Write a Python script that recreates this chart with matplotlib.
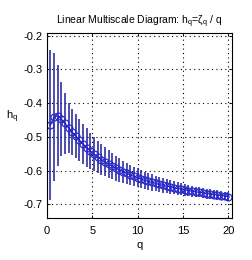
import numpy as np
import matplotlib
matplotlib.use("Agg")
import matplotlib.pyplot as plt

plt.rcParams['font.family'] = ['Liberation Sans', 'DejaVu Sans']
plt.rcParams['mathtext.default'] = 'regular'

# moments q and estimated h_q with error half-widths
q = np.round(np.arange(1, 51) * 0.4, 1)
hq = [-0.465, -0.441, -0.437, -0.447, -0.460, -0.473, -0.486, -0.498, -0.510, -0.521,
      -0.532, -0.542, -0.551, -0.559, -0.567, -0.574, -0.581, -0.587, -0.593, -0.598,
      -0.603, -0.608, -0.613, -0.617, -0.621, -0.625, -0.629, -0.632, -0.635, -0.638,
      -0.641, -0.644, -0.646, -0.648, -0.651, -0.653, -0.655, -0.657, -0.659, -0.661,
      -0.663, -0.664, -0.666, -0.668, -0.669, -0.671, -0.672, -0.674, -0.675, -0.677]
err = [0.222, 0.190, 0.150, 0.110, 0.090, 0.075, 0.068, 0.065, 0.062, 0.060,
       0.057, 0.054, 0.051, 0.048, 0.045, 0.043, 0.041, 0.039, 0.037, 0.035,
       0.033, 0.031, 0.030, 0.029, 0.028, 0.027, 0.026, 0.025, 0.024, 0.023,
       0.022, 0.021, 0.020, 0.020, 0.019, 0.018, 0.018, 0.017, 0.017, 0.016,
       0.016, 0.015, 0.015, 0.015, 0.014, 0.014, 0.014, 0.013, 0.013, 0.013]

fig = plt.figure(figsize=(2.53, 2.6), dpi=100)
ax = fig.add_axes([0.185, 0.162, 0.732, 0.711])

ax.errorbar(q, hq, yerr=err, fmt='none', ecolor='#1c1c9c', elinewidth=1.1, capsize=0)
ax.plot(q, hq, '-o', color='#1c1c9c', lw=0.9, ms=5, mfc='none', mec='#2a2ad0', mew=0.9)

ax.set_xlim(0, 20.4)
ax.set_ylim(-0.74, -0.192)
ax.set_xticks([0, 5, 10, 15, 20])
ax.set_yticks([-0.7, -0.6, -0.5, -0.4, -0.3, -0.2])
ax.set_yticklabels(['-0.7', '-0.6', '-0.5', '-0.4', '-0.3', '-0.2'])
ax.grid(True, linestyle=(0, (1, 3)), color='black', linewidth=0.8)
ax.tick_params(direction='in', length=2.5, width=0.6, labelsize=8, top=True, right=True, pad=3)
ax.tick_params(axis='x', pad=6)
for s in ax.spines.values():
    s.set_linewidth(0.8)

ax.set_title('Linear Multiscale Diagram: $h_q$=ζ$_q$ / q', fontsize=7.5, pad=6)
ax.set_xlabel('q', fontsize=8, labelpad=3)
ax.set_ylabel('$h_q$', fontsize=8, rotation=0, labelpad=8)

fig.savefig('out.png', dpi=100)
